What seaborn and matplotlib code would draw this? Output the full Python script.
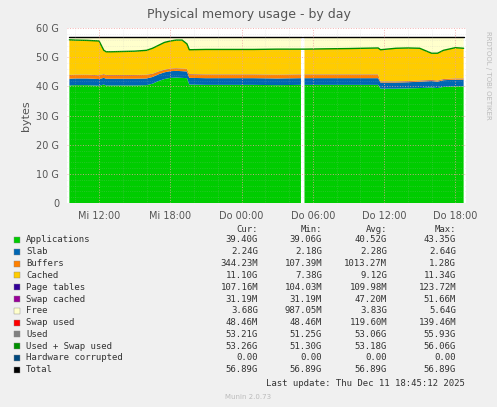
import numpy as np
import matplotlib
matplotlib.use('Agg')
from matplotlib import pyplot as plt
from matplotlib.ticker import MultipleLocator
import seaborn as sns

nan = np.nan
hours = [9.5, 10, 11, 12, 12.4, 12.6, 13, 14, 15, 16, 16.5, 17, 17.5, 18, 18.5, 19, 19.4, 19.6, 21, 23,
         25, 27, 29.0, 29.15, 29.3, 31, 33, 35.5, 35.7, 37, 38, 39, 40, 40.5, 41, 42, 42.7]
apps = [40.3, 40.4, 40.4, 40.2, 40.6, 40.3, 40.3, 40.3, 40.3, 40.4, 40.9, 41.8, 42.5, 42.9, 43.0, 42.9, 42.8, 40.6, 40.5, 40.5,
        40.5, 40.4, 40.5, nan, 40.5, 40.5, 40.5, 40.5, 39.2, 39.2, 39.3, 39.4, 39.6, 39.4, 39.8, 40.0, 40.0]
slab = [2.3] * 27 + [2.3, 2.1, 2.1, 2.1, 2.2, 2.2, 2.2, 2.3, 2.3, 2.3]
buffers = [1.2] * 10 + [1.0, 0.9, 0.8, 0.8, 0.8, 0.8, 0.8] + [1.2] * 11 + [0.3] * 9
pagetables = [0.1] * 37
top = [55.9, 55.8, 55.7, 55.5, 52.3, 51.8, 51.8, 51.9, 52.0, 52.3, 53.0, 54.0, 55.0, 55.5, 55.8, 55.8, 54.5, 52.5, 52.6, 52.6,
       52.6, 52.7, 52.7, nan, 52.7, 52.8, 52.9, 53.1, 52.5, 53.0, 53.1, 53.0, 51.3, 51.3, 52.3, 53.2, 53.0]
total = 56.89

tick_pos = [12, 18, 24, 30, 36, 42]
tick_lab = ['Mi 12:00', 'Mi 18:00', 'Do 00:00', 'Do 06:00', 'Do 12:00', 'Do 18:00']

legend_names = ['Applications', 'Slab', 'Buffers', 'Cached', 'Page tables', 'Swap cached', 'Free',
                'Swap used', 'Used', 'Used + Swap used', 'Hardware corrupted', 'Total']
legend_colors = ['#00CC00', '#0066B3', '#FF8000', '#FFCC00', '#330099', '#990099', '#FFFFCC',
                 '#FF0000', '#808080', '#008F00', '#00487D', '#000000']
cur = ['39.40G', '2.24G', '344.23M', '11.10G', '107.16M', '31.19M', '3.68G', '48.46M', '53.21G', '53.26G', '0.00', '56.89G']
mins = ['39.06G', '2.18G', '107.39M', '7.38G', '104.03M', '31.19M', '987.05M', '48.46M', '51.25G', '51.30G', '0.00', '56.89G']
avg = ['40.52G', '2.28G', '1013.27M', '9.12G', '109.98M', '47.20M', '3.83G', '119.60M', '53.06G', '53.18G', '0.00', '56.89G']
maxs = ['43.35G', '2.64G', '1.28G', '11.34G', '123.72M', '51.66M', '5.64G', '139.46M', '55.93G', '56.06G', '0.00', '56.89G']

sns.set_style('white')
plt.rcParams['font.family'] = ['DejaVu Sans']

h = np.array(hours)
a = np.array(apps); s = np.array(slab); b = np.array(buffers); p = np.array(pagetables)
t = np.array(top)
cached = t - a - s - b - p
free = total - t

fig = plt.figure(figsize=(4.97, 4.07), dpi=100, facecolor='#F0F0F0')
ax = fig.add_axes([67 / 497, 1 - 203 / 407, 399 / 497, 175 / 407])
ax.set_facecolor('white')
ax.stackplot(h, a, s, b, p, cached, free,
             colors=['#00CC00', '#0066B3', '#FF8000', '#330099', '#FFCC00', '#FFFFCC'], linewidth=0)
sns.lineplot(x=h, y=t + 0.05, ax=ax, color='#008F00', linewidth=1)
ax.plot([h[0], 29.1], [total, total], color='black', lw=1)
ax.plot([29.2, h[-1]], [total, total], color='black', lw=1)
ax.axvspan(29.05, 29.25, color='white', lw=0)

ax.set_xlim(9.3, 42.9)
ax.set_ylim(0, 60)
ax.set_xticks(tick_pos, tick_lab)
ax.xaxis.set_minor_locator(MultipleLocator(2))
ax.set_yticks([0, 10, 20, 30, 40, 50, 60], ['0', '10 G', '20 G', '30 G', '40 G', '50 G', '60 G'])
ax.yaxis.set_minor_locator(MultipleLocator(2))
ax.grid(which='minor', color='#BBBBBB', linestyle=':', lw=0.5, alpha=0.35)
ax.grid(which='major', color='#F0A0A0', linestyle=':', lw=0.7, alpha=0.8)
ax.set_axisbelow(False)
for sp in ax.spines.values():
    sp.set_visible(False)
ax.tick_params(labelsize=7, colors='#555555', length=2)
ax.set_ylabel('bytes', fontsize=8, color='#555555')
fig.text(0.5, 1 - 18 / 407, 'Physical memory usage - by day', ha='center', fontsize=9, color='#555555')
fig.text(488 / 497, 1 - 75 / 407, 'RRDTOOL / TOBI OETIKER', rotation=270, ha='center', va='center', fontsize=5, color='#BBBBBB')

mono = 'DejaVu Sans Mono'
fs = 6.5
cols = [258, 322, 387, 456]
for x, head in zip(cols, ['Cur:', 'Min:', 'Avg:', 'Max:']):
    fig.text(x / 497, 1 - 229 / 407, head, ha='right', va='center', fontsize=fs, family=mono, color='#333333')
for i, name in enumerate(legend_names):
    y = 1 - (240 + i * 11.8) / 407
    fig.patches.append(plt.Rectangle((14 / 497, y - 3 / 407), 6 / 497, 6 / 407, transform=fig.transFigure,
                                     facecolor=legend_colors[i], edgecolor='#888888', lw=0.3))
    fig.text(26 / 497, y, name, va='center', fontsize=fs, family=mono, color='#333333')
    for x, v in zip(cols, [cur[i], mins[i], avg[i], maxs[i]]):
        fig.text(x / 497, y, v, ha='right', va='center', fontsize=fs, family=mono, color='#333333')
fig.text(465 / 497, 1 - 383 / 407, 'Last update: Thu Dec 11 18:45:12 2025', ha='right', va='center',
         fontsize=fs, family=mono, color='#333333')
fig.text(248 / 497, 1 - 397 / 407, 'Munin 2.0.73', ha='center', va='center', fontsize=5, color='#BBBBBB')

fig.savefig('out.png', dpi=100, facecolor=fig.get_facecolor())
